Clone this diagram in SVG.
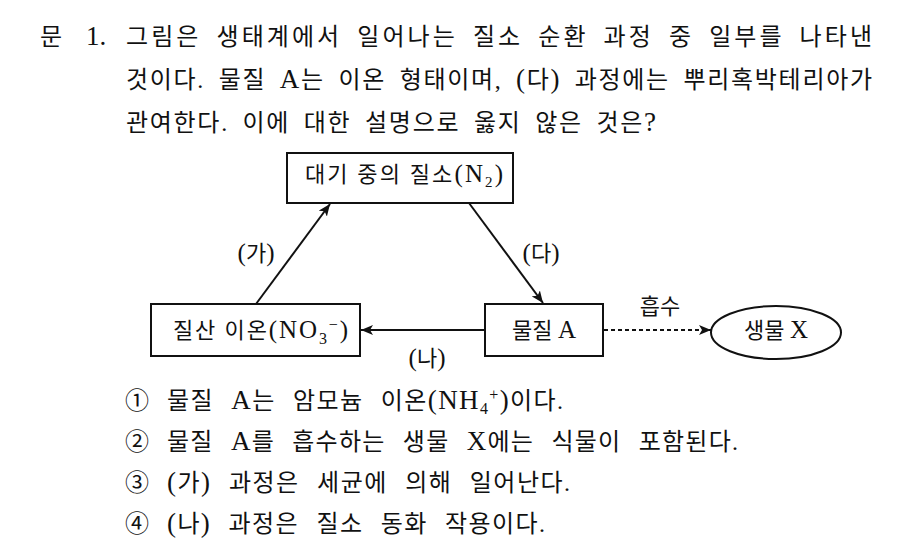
<svg xmlns="http://www.w3.org/2000/svg" width="911" height="558" viewBox="0 0 911 558">
<defs>
<style>
text{font-family:"Liberation Serif","Noto Sans CJK KR",serif;fill:#111;}
.q{font-size:24px;word-spacing:6px;}
.o{word-spacing:10px;}
.d{font-size:22px;}
.L{font-size:27px;}
.Ld{font-size:25px;}
.box{fill:#fff;stroke:#111;stroke-width:2;}
.ln{stroke:#111;stroke-width:2;fill:none;}
.dot{stroke:#111;stroke-width:2;fill:none;stroke-dasharray:4 3;}
</style>
<marker id="ah" viewBox="0 0 12 10" refX="12" refY="5" markerWidth="12" markerHeight="10" markerUnits="userSpaceOnUse" orient="auto">
<path d="M0,0 L12,5 L0,10 L3,5 Z" fill="#111"/>
</marker>
</defs>
<rect width="911" height="558" fill="#fff"/>
<g id="question">
<text class="q" x="40" y="45">문</text>
<text class="q" x="86" y="45"><tspan class="L">1.</tspan></text>
<text class="q" x="126" y="45" textLength="746" lengthAdjust="spacing">그림은 생태계에서 일어나는 질소 순환 과정 중 일부를 나타낸</text>
<text class="q" x="126" y="88" textLength="746" lengthAdjust="spacing">것이다. 물질 <tspan class="L">A</tspan>는 이온 형태이며, <tspan class="L">(</tspan>다<tspan class="L">)</tspan> 과정에는 뿌리혹박테리아가</text>
<text class="q" x="126" y="131" textLength="530" lengthAdjust="spacing">관여한다. 이에 대한 설명으로 옳지 않은 것은<tspan class="L">?</tspan></text>
</g>
<g id="connectors">
<line class="ln" x1="256" y1="304" x2="330" y2="204" marker-end="url(#ah)"/>
<line class="ln" x1="469" y1="203" x2="543" y2="303" marker-end="url(#ah)"/>
<line class="ln" x1="485" y1="330" x2="361" y2="330" marker-end="url(#ah)"/>
<line class="dot" x1="604" y1="330" x2="711" y2="330" marker-end="url(#ah)"/>
<text class="d" x="256" y="261" text-anchor="middle"><tspan class="Ld">(</tspan>가<tspan class="Ld">)</tspan></text>
<text class="d" x="541" y="261" text-anchor="middle"><tspan class="Ld">(</tspan>다<tspan class="Ld">)</tspan></text>
<text class="d" x="427" y="366" text-anchor="middle"><tspan class="Ld">(</tspan>나<tspan class="Ld">)</tspan></text>
<text class="d" x="660" y="314" text-anchor="middle">흡수</text>
</g>
<g id="node-n2">
<rect class="box" x="287" y="153" width="226" height="50"/>
<text class="d" x="305" y="182" textLength="198" lengthAdjust="spacing">대기 중의 질소<tspan class="Ld">(N</tspan><tspan font-size="15" dy="5">2</tspan><tspan class="Ld" dy="-5">)</tspan></text>
</g>
<g id="node-no3">
<rect class="box" x="151" y="304" width="209" height="52"/>
<text class="d" x="173" y="338" textLength="175" lengthAdjust="spacing">질산 이온<tspan class="Ld">(NO</tspan><tspan font-size="16" dy="6">3</tspan><tspan font-size="16" dy="-14">−</tspan><tspan class="Ld" dy="8">)</tspan></text>
</g>
<g id="node-a">
<rect class="box" x="485" y="304" width="118" height="52"/>
<text class="d" x="544" y="338" text-anchor="middle">물질 <tspan class="Ld">A</tspan></text>
</g>
<g id="node-x">
<ellipse class="box" cx="776" cy="332.5" rx="65" ry="26.5"/>
<text class="d" x="776" y="338" text-anchor="middle">생물 <tspan class="Ld">X</tspan></text>
</g>
<g id="options">
<text class="q" x="125" y="409">①</text>
<text class="q o" x="167" y="409" textLength="396" lengthAdjust="spacing">물질 <tspan class="L">A</tspan>는 암모늄 이온<tspan class="L">(NH</tspan><tspan font-size="16" dy="5">4</tspan><tspan font-size="16" dy="-14">+</tspan><tspan class="L" dy="9">)</tspan>이다.</text>
<text class="q" x="125" y="450">②</text>
<text class="q o" x="167" y="450" textLength="571" lengthAdjust="spacing">물질 <tspan class="L">A</tspan>를 흡수하는 생물 <tspan class="L">X</tspan>에는 식물이 포함된다.</text>
<text class="q" x="125" y="491">③</text>
<text class="q o" x="167" y="491" textLength="403" lengthAdjust="spacing"><tspan class="L">(</tspan>가<tspan class="L">)</tspan> 과정은 세균에 의해 일어난다.</text>
<text class="q" x="125" y="532">④</text>
<text class="q o" x="167" y="532" textLength="378" lengthAdjust="spacing"><tspan class="L">(</tspan>나<tspan class="L">)</tspan> 과정은 질소 동화 작용이다.</text>
</g>
</svg>
